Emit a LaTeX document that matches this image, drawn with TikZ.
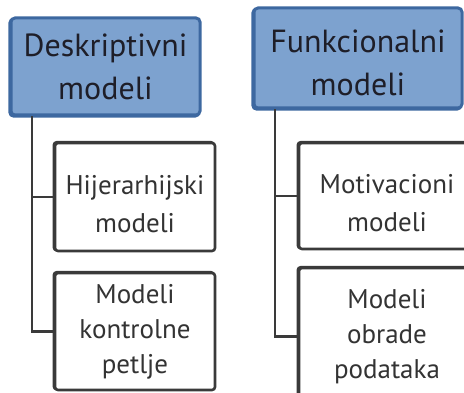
\documentclass[tikz,border=0pt]{standalone}
\usepackage{fontspec}
\setmainfont{PT Sans}
\definecolor{topfill}{HTML}{7DA2CF}
\definecolor{topedge}{HTML}{3D68A0}
\definecolor{ink}{HTML}{1E1E28}
\definecolor{edge}{HTML}{3A3A3A}
\definecolor{childink}{HTML}{333333}
\newcommand{\pushdown}[1]{\rule{0pt}{#1}}
\begin{document}
\begin{tikzpicture}[x=1pt,y=-1pt,
  topbox/.style={draw=topedge, fill=topfill, line width=3pt, rounded corners=4pt,
    align=center, text=ink, inner sep=0pt, font=\fontsize{32}{43}\selectfont,
    preaction={draw=topedge, line width=3pt, transform canvas={xshift=-1.2pt,yshift=-1.2pt}}},
  childbox/.style={draw=edge, fill=white, line width=2.6pt, rounded corners=3pt,
    align=center, text=childink, inner sep=0pt, font=\fontsize{27}{35}\selectfont,
    preaction={draw=edge, line width=2.6pt, transform canvas={xshift=-1.2pt,yshift=0.8pt}}},
  twoline/.style={font=\fontsize{27}{38}\selectfont},
  link/.style={draw=edge, line width=2.6pt}]
\useasboundingbox (0,0) rectangle (464,393);
\clip (0,0) rectangle (464,393);
% top boxes
\node[topbox, minimum width=189pt, minimum height=97pt] (d) at (105.5,66.5) {Deskriptivni\\modeli};
\node[topbox, minimum width=208pt, minimum height=100pt] (f) at (358,58) {\pushdown{32pt}Funkcionalni\\modeli};
% children
\node[childbox, twoline, minimum width=160pt, minimum height=108pt] (h) at (135,197) {\pushdown{34pt}Hijerarhijski\\modeli};
\node[childbox, minimum width=160pt, minimum height=117pt] (k) at (135,331.5) {Modeli\\kontrolne\\petlje};
\node[childbox, twoline, minimum width=176pt, minimum height=106pt] (m) at (387,196) {\pushdown{34pt}Motivacioni\\modeli};
\node[childbox, minimum width=176pt, minimum height=137pt] (o) at (387,336.5) {Modeli\\obrade\\podataka};
% connectors
\coordinate (ds) at (32,0);
\coordinate (fs) at (275,0);
\draw[link] (ds |- d.south) |- (h.west);
\draw[link] (ds |- d.south) |- (k.west);
\draw[link] (fs |- f.south) |- (m.west);
\draw[link] (fs |- f.south) |- (o.west);
\end{tikzpicture}
\end{document}
